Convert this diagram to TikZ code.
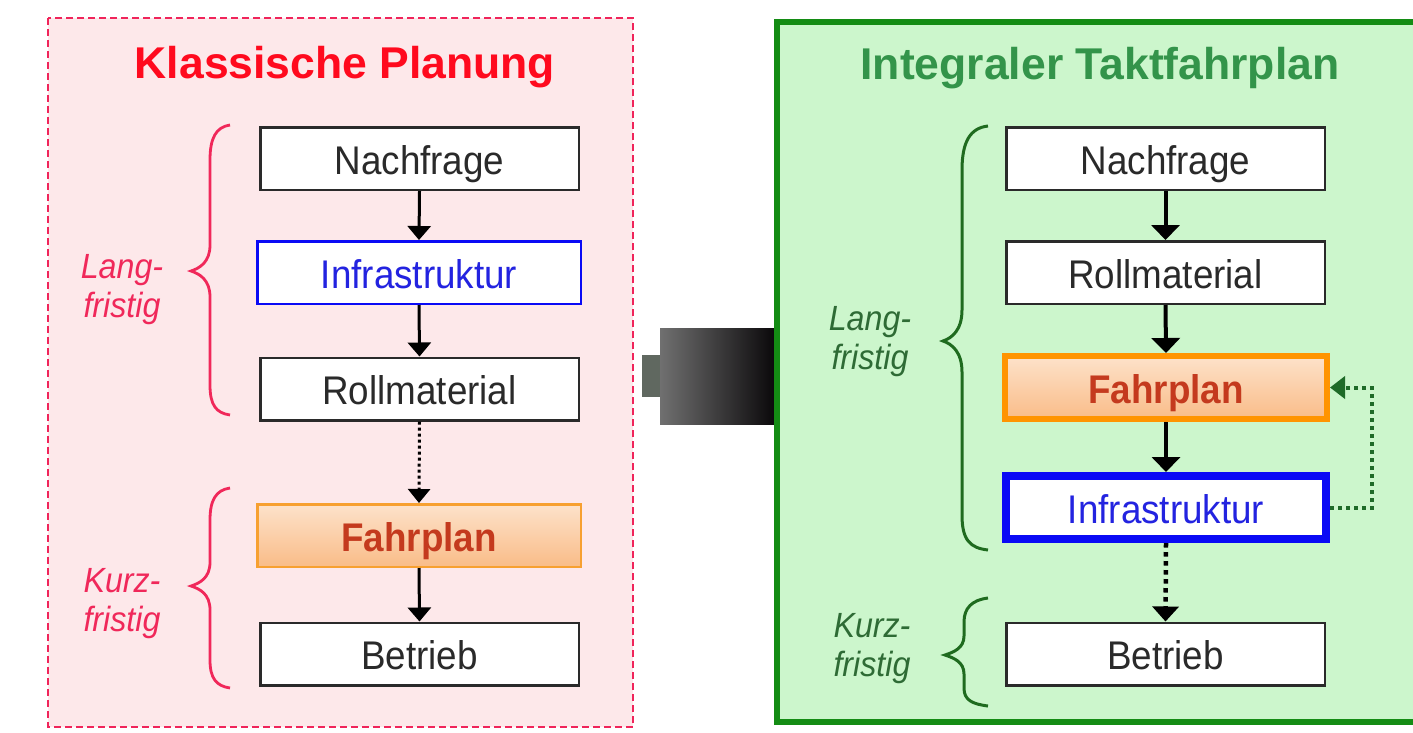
\documentclass[tikz,border=0pt]{standalone}
\usepackage{fontspec}
\setmainfont{Liberation Sans}
\newfontfamily\boxfont{Liberation Sans}[FakeStretch=0.92]
\usetikzlibrary{arrows.meta,calc}
\definecolor{pinkbg}{HTML}{FDE8EA}
\definecolor{pinkline}{HTML}{F0245A}
\definecolor{titlered}{HTML}{FF0A1E}
\definecolor{labelred}{HTML}{F0285A}
\definecolor{greenbg}{HTML}{CCF6CC}
\definecolor{greenline}{HTML}{148C14}
\definecolor{titlegreen}{HTML}{33944A}
\definecolor{labelgreen}{HTML}{2E6B35}
\definecolor{bracegreen}{HTML}{1F6B1F}
\definecolor{boxtext}{HTML}{2A2A2A}
\definecolor{infblue}{HTML}{0A0AF5}
\definecolor{inftext}{HTML}{2323E0}
\definecolor{fpborder}{HTML}{F7A030}
\definecolor{fpthick}{HTML}{FF9400}
\definecolor{fptext}{HTML}{C43A1E}
\definecolor{fptop}{HTML}{FDE2CA}
\definecolor{fpbot}{HTML}{F9BC88}
\definecolor{fbgreen}{HTML}{1E6B28}
\begin{document}
\begin{tikzpicture}[x=1pt,y=-1pt,
  box/.style={draw=boxtext,line width=2.5pt,fill=white,minimum width=318.5pt,minimum height=62.5pt,inner sep=0pt,
    text=boxtext,font=\boxfont\fontsize{40}{44}\selectfont,text height=31pt,text depth=0pt},
  panel title/.style={font=\fontsize{44.5}{48}\selectfont\bfseries},
  sidelabel/.style={align=center,font=\boxfont\fontsize{35}{39}\selectfont\itshape},
  arr/.style={line width=3pt,-{Triangle[width=23pt,length=14pt]}},
  dotarr/.style={line width=3pt,dash pattern=on 3pt off 3pt,-{Triangle[width=22pt,length=14pt]}},
  thickdot/.style={line width=4.5pt,dash pattern=on 4.5pt off 4.5pt,-{Triangle[width=26pt,length=15pt]}},
  fbarr/.style={draw=fbgreen,line width=4pt,dash pattern=on 4pt off 4pt,-{Triangle[width=22pt,length=15pt]}}
]
\useasboundingbox (0,0) rectangle (1413,732);
\fill[white] (0,0) rectangle (1413,732);

% left panel
\draw[pinkline,fill=pinkbg,line width=2.5pt,dash pattern=on 7pt off 4pt] (48,18) rectangle (633,727);
\node[panel title,text=titlered] (ltitle) at (345,67) {Klassische Planung};

\node[box] (ln) at (419.5,158.5) {Nachfrage};
\node[box,draw=infblue,text=inftext,minimum width=323.5pt] (li) at (419,272.5) {Infrastruktur};
\node[box] (lr) at (419.5,389) {Rollmaterial};
\node[box,draw=fpborder,top color=fptop,bottom color=fpbot,text=fptext,font=\boxfont\fontsize{40}{44}\selectfont\bfseries,minimum width=323.5pt] (lf) at (419,535.5) {Fahrplan};
\node[box] (lb) at (419.5,654) {Betrieb};

\draw[arr] (ln.south) -- (li.north);
\draw[arr] (li.south) -- (lr.north);
\draw[dotarr] (lr.south) -- (lf.north);
\draw[arr] (lf.south) -- (lb.north);

% left braces
\draw[labelred,line width=2.8pt] (230,125) .. controls (216,127) and (210,138) .. (210,160) -- (210,245)
  .. controls (210,262) and (200,268) .. (191,271) .. controls (200,274) and (210,280) .. (210,297)
  -- (210,385) .. controls (210,405) and (216,413) .. (230,415);
\draw[labelred,line width=2.8pt] (230,488) .. controls (216,490) and (210,500) .. (210,520) -- (210,562)
  .. controls (210,578) and (200,583) .. (191,586) .. controls (200,589) and (210,594) .. (210,610)
  -- (210,660) .. controls (210,678) and (216,686) .. (230,688);
\node[sidelabel,text=labelred] (llang) at (122,289.5) {Lang-\\fristig};
\node[sidelabel,text=labelred] (lkurz) at (122,604) {Kurz-\\fristig};

% connector block
\fill[color={rgb,255:red,96;green,104;blue,96}] (642,355) rectangle (661,397);
\shade[left color={rgb,255:red,112;green,112;blue,112},right color={rgb,255:red,10;green,8;blue,10}] (660,328) rectangle (775,424);

% right panel
\draw[greenline,fill=greenbg,line width=6pt] (777,22) rectangle (1425,722);
\node[panel title,text=titlegreen] (rtitle) at (1100,68) {Integraler Taktfahrplan};

\node[box] (rn) at (1165.5,158.5) {Nachfrage};
\node[box] (rr) at (1165.5,272.5) {Rollmaterial};
\node[box,draw=fpthick,line width=6pt,top color=fptop,bottom color=fpbot,text=fptext,font=\boxfont\fontsize{40}{44}\selectfont\bfseries,minimum width=322pt,minimum height=63pt] (rf) at (1166,387.5) {Fahrplan};
\node[box,draw=infblue,line width=8pt,text=inftext,minimum width=320pt,minimum height=63pt] (ri) at (1166,507.5) {Infrastruktur};
\node[box] (rb) at (1165.5,654) {Betrieb};

\draw[arr,line width=4pt,-{Triangle[width=28pt,length=15pt]}] (rn.south) -- (rr.north);
\draw[arr,line width=4pt,-{Triangle[width=28pt,length=15pt]}] (rr.south) -- (rf.north);
\draw[arr,line width=4pt,-{Triangle[width=28pt,length=15pt]}] (rf.south) -- (ri.north);
\draw[thickdot] (ri.south) -- (rb.north);
\coordinate (fbx) at (1372,0);
\draw[fbarr] (ri.east) -| (fbx |- rf.east) -- (rf.east);

% right braces
\draw[bracegreen,line width=3pt] (988,126) .. controls (970,128) and (962,142) .. (962,170) -- (962,310)
  .. controls (962,330) and (952,338) .. (943,341) .. controls (952,344) and (962,352) .. (962,372)
  -- (962,515) .. controls (962,540) and (970,548) .. (988,550);
\draw[bracegreen,line width=3pt] (988,598) .. controls (972,600) and (964,608) .. (964,622) -- (964,636)
  .. controls (964,648) and (954,652) .. (945,655) .. controls (954,658) and (964,662) .. (964,674)
  -- (964,688) .. controls (964,700) and (972,704) .. (988,706);
\node[sidelabel,text=labelgreen] (rlang) at (870,342) {Lang-\\fristig};
\node[sidelabel,text=labelgreen] (rkurz) at (872,649) {Kurz-\\fristig};
\end{tikzpicture}
\end{document}
